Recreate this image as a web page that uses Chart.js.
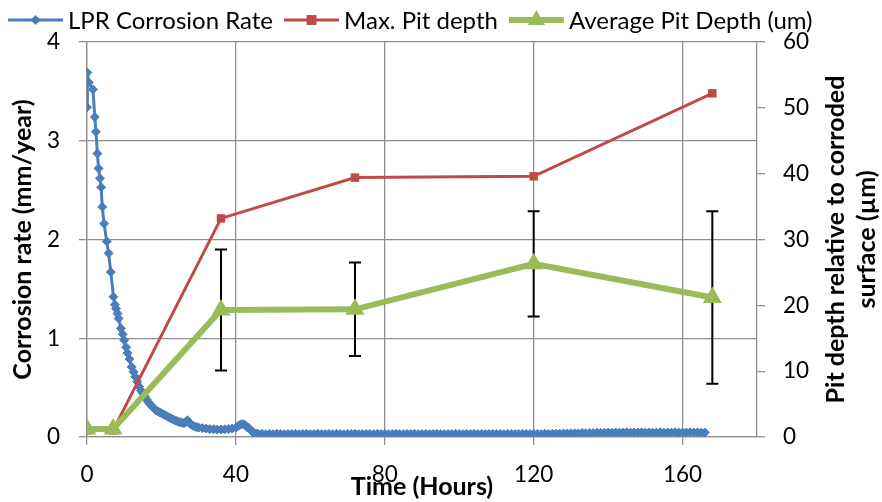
<!DOCTYPE html>
<html>
<head>
<meta charset="utf-8">
<script src="https://cdn.jsdelivr.net/npm/chart.js@4.4.0/dist/chart.umd.min.js"></script>
<style>
  body { margin: 0; background: #fff; }
</style>
</head>
<body>
<canvas id="myChart" width="882" height="502"></canvas>
<script>
// LPR corrosion rate (left axis, mm/year)
const lprHours = [
  0, 0.1, 0.5, 1.6, 2.1, 2.4, 2.8, 3.1, 3.5, 3.8,
  4.1, 4.6, 5.3, 5.8, 6.4, 7.1, 7.5, 7.8, 8.2, 8.5,
  9.1, 9.6, 10.0, 10.5, 10.9, 11.4,
  12.0, 12.5, 13.0, 13.5, 14.0, 14.5, 15.0, 15.5, 16.0, 16.5,
  17.0, 17.5, 18.0, 18.5, 19.0, 19.5, 20.0, 20.5, 21.0, 21.5,
  22.0, 22.5, 23.0, 23.5, 24.0, 24.5, 25.0, 25.5, 26.0, 26.5,
  27.0, 27.5, 28.0, 28.5, 29.0, 29.5, 30.0, 31.0, 32.0, 33.0,
  34.0, 35.0, 36.0, 37.0, 38.0, 39.0, 40.0, 40.5, 41.0, 41.5,
  42.0, 42.5, 43.0, 43.5, 44.0, 44.5, 45.0, 45.5,
  46, 47, 48, 49, 50, 51, 52, 53, 54, 55,
  56, 57, 58, 59, 60, 61, 62, 63, 64, 65,
  66, 67, 68, 69, 70, 71, 72, 73, 74, 75,
  76, 77, 78, 79, 80, 81, 82, 83, 84, 85,
  86, 87, 88, 89, 90, 91, 92, 93, 94, 95,
  96, 97, 98, 99, 100, 101, 102, 103, 104, 105,
  106, 107, 108, 109, 110, 111, 112, 113, 114, 115,
  116, 117, 118, 119, 120, 121, 122, 123, 124, 125,
  126, 127, 128, 129, 130, 131, 132, 133, 134, 135,
  136, 137, 138, 139, 140, 141, 142, 143, 144, 145,
  146, 147, 148, 149, 150, 151, 152, 153, 154, 155,
  156, 157, 158, 159, 160, 161, 162, 163, 164, 165,
  166
];
const lprRate = [
  3.34, 3.69, 3.59, 3.52, 3.24, 3.09, 2.87, 2.72, 2.62, 2.53,
  2.33, 2.16, 1.98, 1.86, 1.67, 1.42, 1.34, 1.30, 1.25, 1.20,
  1.10, 1.04, 0.98, 0.91, 0.85, 0.79,
  0.71, 0.66, 0.61, 0.56, 0.51, 0.47, 0.44, 0.41, 0.38, 0.35,
  0.33, 0.31, 0.29, 0.27, 0.26, 0.25, 0.24, 0.23, 0.22, 0.21,
  0.20, 0.19, 0.18, 0.17, 0.165, 0.155, 0.15, 0.145, 0.14, 0.15,
  0.17, 0.14, 0.125, 0.115, 0.105, 0.10, 0.095, 0.09, 0.085, 0.08,
  0.078, 0.075, 0.076, 0.078, 0.08, 0.085, 0.095, 0.11, 0.12, 0.13,
  0.13, 0.12, 0.10, 0.09, 0.07, 0.05, 0.04, 0.035,
  0.030, 0.033, 0.028, 0.031, 0.029, 0.032, 0.030, 0.028, 0.031, 0.030,
  0.032, 0.029, 0.030, 0.031, 0.028, 0.030, 0.033, 0.029, 0.030, 0.031,
  0.029, 0.032, 0.030, 0.028, 0.031, 0.030, 0.033, 0.029, 0.030, 0.031,
  0.030, 0.028, 0.032, 0.030, 0.031, 0.029, 0.030, 0.033, 0.030, 0.029,
  0.031, 0.030, 0.032, 0.029, 0.030, 0.031, 0.028, 0.030, 0.032, 0.030,
  0.029, 0.031, 0.030, 0.033, 0.030, 0.029, 0.031, 0.030, 0.032, 0.030,
  0.031, 0.029, 0.030, 0.032, 0.030, 0.031, 0.029, 0.032, 0.030, 0.031,
  0.030, 0.033, 0.031, 0.030, 0.032, 0.031, 0.030, 0.033, 0.031, 0.032,
  0.033, 0.034, 0.036, 0.035, 0.038, 0.037, 0.036, 0.040, 0.039, 0.041,
  0.040, 0.043, 0.042, 0.044, 0.045, 0.043, 0.046, 0.044, 0.045, 0.047,
  0.044, 0.046, 0.045, 0.047, 0.044, 0.046, 0.043, 0.045, 0.047, 0.044,
  0.046, 0.045, 0.047, 0.044, 0.046, 0.045, 0.047, 0.045, 0.046, 0.044,
  0.046
];

// pit depths (right axis, um)
const pitHours = [0, 7, 36, 72, 120, 168];
const maxPitDepth = [1.0, 1.0, 33.2, 39.4, 39.6, 52.2];
const avgPitDepth = [1.2, 1.2, 19.3, 19.4, 26.3, 21.2];
const avgPitError = [0, 0, 9.2, 7.1, 8.0, 13.1];

// ticks
const timeTicks = [0, 40, 80, 120, 160];
const rateTicks = [0, 1, 2, 3, 4];
const depthTicks = [0, 10, 20, 30, 40, 50, 60];

const seriesNames = ['LPR Corrosion Rate', 'Max. Pit depth', 'Average Pit Depth (um)'];
const rightTitle = ['Pit depth relative to corroded', 'surface (\u00b5m)'];

const BLUE = '#4A7EBB', RED = '#BE4B48', GREEN = '#9BBB59', GRID = '#8f8f8f';
const FONT = "Lato, 'Open Sans', sans-serif";

Chart.defaults.font.family = FONT;
Chart.defaults.color = '#000';

function marker(ctx, style, x, y, r, color) {
  ctx.fillStyle = color;
  ctx.beginPath();
  if (style === 'diamond') {
    ctx.moveTo(x, y - r); ctx.lineTo(x + r, y); ctx.lineTo(x, y + r); ctx.lineTo(x - r, y);
  } else if (style === 'square') {
    const s = r * Math.SQRT1_2;
    ctx.rect(x - s, y - s, 2 * s, 2 * s);
  } else {
    ctx.moveTo(x, y - r);
    ctx.lineTo(x + r * 0.866, y + r / 2);
    ctx.lineTo(x - r * 0.866, y + r / 2);
  }
  ctx.closePath();
  ctx.fill();
}

const extras = {
  id: 'extras',
  // error bars sit under the green line
  beforeDatasetDraw(chart, args) {
    if (args.index !== 2) return;
    const ctx = chart.ctx, x = chart.scales.x, y = chart.scales.y2;
    ctx.save();
    ctx.strokeStyle = '#000';
    ctx.lineWidth = 2;
    pitHours.forEach((h, i) => {
      const e = avgPitError[i];
      if (!e) return;
      const px = x.getPixelForValue(h);
      const top = y.getPixelForValue(avgPitDepth[i] + e);
      const bot = y.getPixelForValue(avgPitDepth[i] - e);
      ctx.beginPath();
      ctx.moveTo(px, top); ctx.lineTo(px, bot);
      ctx.moveTo(px - 6, top); ctx.lineTo(px + 6, top);
      ctx.moveTo(px - 6, bot); ctx.lineTo(px + 6, bot);
      ctx.stroke();
    });
    ctx.restore();
  },
  afterDraw(chart) {
    const ctx = chart.ctx;
    ctx.save();
    // legend
    const items = [
      {color: BLUE, style: 'diamond', r: 5, w: 3},
      {color: RED, style: 'square', r: 7, w: 3},
      {color: GREEN, style: 'triangle', r: 10, w: 6}
    ];
    ctx.font = '24px ' + FONT;
    ctx.textBaseline = 'middle';
    let lx = 8;
    const ly = 20;
    items.forEach((it, i) => {
      ctx.strokeStyle = it.color;
      ctx.lineWidth = it.w;
      ctx.beginPath();
      ctx.moveTo(lx, ly); ctx.lineTo(lx + 55, ly);
      ctx.stroke();
      marker(ctx, it.style, lx + 27.5, ly, it.r, it.color);
      ctx.fillStyle = '#000';
      ctx.textAlign = 'left';
      ctx.fillText(seriesNames[i], lx + 60, ly + 1);
      lx += 60 + ctx.measureText(seriesNames[i]).width + 11;
    });
    // right axis title, reading upwards
    const area = chart.chartArea;
    const cy = (area.top + area.bottom) / 2;
    ctx.font = 'bold 25px ' + FONT;
    ctx.textAlign = 'center';
    ctx.fillStyle = '#000';
    ctx.translate(836, cy);
    ctx.rotate(-Math.PI / 2);
    ctx.fillText(rightTitle[0], 0, 0);
    ctx.fillText(rightTitle[1], 0, 31);
    ctx.restore();
  }
};

const gridOpts = {color: GRID, lineWidth: 1.3, tickLength: 8, tickColor: GRID};
const borderOpts = {color: GRID, width: 1.3};

const ctx = document.getElementById('myChart').getContext('2d');
new Chart(ctx, {
  type: 'line',
  data: {
    datasets: [
      {
        label: seriesNames[0],
        data: lprHours.map((h, i) => ({x: h, y: lprRate[i]})),
        yAxisID: 'y',
        borderColor: BLUE,
        backgroundColor: BLUE,
        borderWidth: 3,
        pointStyle: 'rectRot',
        pointRadius: 4.5,
        pointBorderWidth: 1,
        order: 3
      },
      {
        label: seriesNames[1],
        data: pitHours.map((h, i) => ({x: h, y: maxPitDepth[i]})),
        yAxisID: 'y2',
        borderColor: RED,
        backgroundColor: RED,
        borderWidth: 3,
        pointStyle: 'rect',
        pointRadius: 6,
        pointBorderWidth: 0,
        order: 2
      },
      {
        label: seriesNames[2],
        data: pitHours.map((h, i) => ({x: h, y: avgPitDepth[i]})),
        yAxisID: 'y2',
        borderColor: GREEN,
        backgroundColor: GREEN,
        borderWidth: 6,
        pointStyle: 'triangle',
        pointRadius: 11,
        pointBorderWidth: 0,
        order: 1
      }
    ]
  },
  options: {
    responsive: false,
    animation: false,
    events: [],
    layout: {padding: {top: 42, left: 0, right: 0, bottom: 0}},
    plugins: {legend: {display: false}, tooltip: {enabled: false}},
    scales: {
      x: {
        type: 'linear',
        min: 0,
        max: 180,
        afterBuildTicks: s => { s.ticks = timeTicks.map(v => ({value: v})); },
        afterFit: s => { s.height = 65; },
        grid: gridOpts,
        border: borderOpts,
        ticks: {font: {size: 22.5}, padding: 16, maxRotation: 0},
        title: {display: true, text: 'Time (Hours)', font: {size: 25, weight: 'bold'}, padding: {top: 0, bottom: 0}}
      },
      y: {
        position: 'left',
        min: 0,
        max: 4,
        afterBuildTicks: s => { s.ticks = rateTicks.map(v => ({value: v})); },
        afterFit: s => { s.width = 87; },
        grid: gridOpts,
        border: borderOpts,
        ticks: {font: {size: 22.5}, padding: 19},
        title: {display: true, text: 'Corrosion rate (mm/year)', font: {size: 25, weight: 'bold'}, padding: {top: 8, bottom: 0}}
      },
      y2: {
        position: 'right',
        min: 0,
        max: 60,
        afterBuildTicks: s => { s.ticks = depthTicks.map(v => ({value: v})); },
        afterFit: s => { s.width = 125; },
        grid: {drawOnChartArea: false, color: GRID, lineWidth: 1.3, tickLength: 8, tickColor: GRID},
        border: borderOpts,
        ticks: {font: {size: 22.5}, padding: 18}
      }
    }
  },
  plugins: [extras]
});
</script>
</body>
</html>
